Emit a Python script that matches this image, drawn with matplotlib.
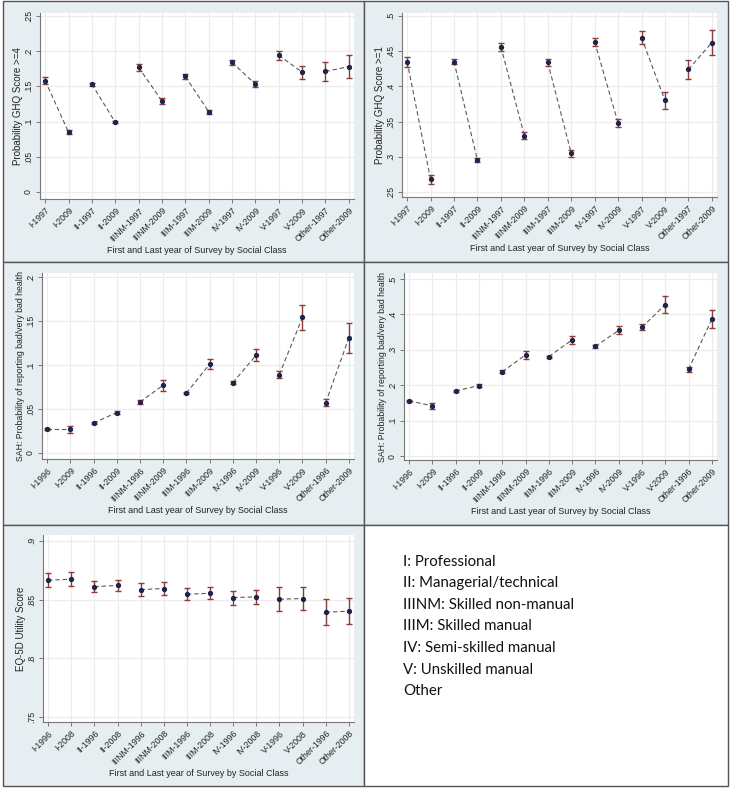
import matplotlib
matplotlib.use("Agg")
import matplotlib.pyplot as plt
from matplotlib.patches import Rectangle

W, H = 731, 792

classes = ["I", "II", "IIINM", "IIIM", "IV", "V", "Other"]

# Panel 1: GHQ >= 4
ghq4_labels = ["I-1997", "I-2009", "II-1997", "II-2009", "IIINM-1997", "IIINM-2009",
               "IIIM-1997", "IIIM-2009", "IV-1997", "IV-2009", "V-1997", "V-2009",
               "Other-1997", "Other-2009"]
ghq4_vals = [0.158, 0.085, 0.153, 0.099, 0.177, 0.129, 0.164, 0.114, 0.184, 0.153,
             0.194, 0.170, 0.171, 0.178]
ghq4_err = [0.005, 0.003, 0.002, 0.0015, 0.005, 0.004, 0.003, 0.003, 0.004, 0.004,
            0.006, 0.009, 0.014, 0.016]

# Panel 2: GHQ >= 1
ghq1_labels = ghq4_labels
ghq1_vals = [0.435, 0.268, 0.435, 0.295, 0.456, 0.330, 0.434, 0.305, 0.463, 0.348,
             0.469, 0.380, 0.424, 0.462]
ghq1_err = [0.007, 0.006, 0.004, 0.003, 0.006, 0.005, 0.005, 0.005, 0.006, 0.005,
            0.009, 0.012, 0.014, 0.018]

# Panel 3: SAH bad/very bad (left)
sah_labels = ["I-1996", "I-2009", "II-1996", "II-2009", "IIINM-1996", "IIINM-2009",
              "IIIM-1996", "IIIM-2009", "IV-1996", "IV-2009", "V-1996", "V-2009",
              "Other-1996", "Other-2009"]
sahA_vals = [0.027, 0.027, 0.034, 0.046, 0.058, 0.077, 0.068, 0.101, 0.080, 0.111,
             0.089, 0.154, 0.057, 0.131]
sahA_err = [0.001, 0.004, 0.001, 0.002, 0.002, 0.006, 0.001, 0.006, 0.002, 0.007,
            0.004, 0.014, 0.004, 0.017]

# Panel 4: SAH bad/very bad (right)
sahB_vals = [0.156, 0.142, 0.184, 0.199, 0.238, 0.286, 0.281, 0.328, 0.310, 0.355,
             0.364, 0.428, 0.245, 0.387]
sahB_err = [0.003, 0.009, 0.002, 0.005, 0.004, 0.012, 0.003, 0.011, 0.004, 0.011,
            0.009, 0.024, 0.008, 0.025]

# Panel 5: EQ-5D
eq_labels = ["I-1996", "I-2008", "II-1996", "II-2008", "IIINM-1996", "IIINM-2008",
             "IIIM-1996", "IIIM-2008", "IV-1996", "IV-2008", "V-1996", "V-2008",
             "Other-1996", "Other-2008"]
eq_vals = [0.8665, 0.8673, 0.861, 0.862, 0.8585, 0.8594, 0.8545, 0.8554, 0.8517, 0.8523,
           0.8503, 0.8509, 0.8392, 0.8401]
eq_err = [0.006, 0.006, 0.0045, 0.0045, 0.0055, 0.0055, 0.005, 0.005, 0.006, 0.006,
          0.010, 0.010, 0.011, 0.011]

legend_lines = ["I: Professional", "II: Managerial/technical", "IIINM: Skilled non-manual",
                "IIIM: Skilled manual", "IV: Semi-skilled manual", "V: Unskilled manual", "Other"]

plt.rcParams['font.family'] = ['Liberation Sans', 'DejaVu Sans']

fig = plt.figure(figsize=(W / 100, H / 100), dpi=100)
fig.patch.set_facecolor("white")

BG = "#e7eef1"
FRAME = "#555555"

def px_rect(x0, y0, x1, y1):
    return [x0 / W, 1 - y1 / H, (x1 - x0) / W, (y1 - y0) / H]

# panel backgrounds
panels = [(3, 1, 364, 262, BG), (364, 1, 728, 262, BG), (3, 262, 364, 525, BG),
          (364, 262, 728, 525, BG), (3, 525, 364, 786, BG), (364, 525, 728, 786, "white")]
for (x0, y0, x1, y1, c) in panels:
    fig.patches.append(Rectangle((x0 / W, 1 - y1 / H), (x1 - x0) / W, (y1 - y0) / H,
                                 transform=fig.transFigure, facecolor=c,
                                 edgecolor=FRAME, linewidth=1.0, zorder=-10))

NAVY = "#1b2550"
RED = "#8c3b3b"

def draw(rect, labels, vals, errs, ylim, yticks, yticklabels, ylabel, ylsize=7.0):
    ax = fig.add_axes(px_rect(*rect))
    ax.set_zorder(1)
    ax.set_facecolor("white")
    x = list(range(len(labels)))
    for k in range(0, len(vals), 2):
        ax.plot(x[k:k + 2], vals[k:k + 2], linestyle=(0, (4, 2.5)), color="#5a5a5a",
                linewidth=0.8, zorder=2)
    ax.errorbar(x, vals, yerr=errs, fmt="none", ecolor=RED, elinewidth=1.0,
                capsize=2.5, capthick=1.0, zorder=3)
    ax.plot(x, vals, "o", color=NAVY, markersize=2.8, zorder=4, linestyle="none")
    ax.set_xlim(-0.22, len(labels) - 1 + 0.22)
    ax.set_ylim(*ylim)
    ax.set_xticks(x)
    ax.set_xticklabels(labels, rotation=45, ha="right", rotation_mode="anchor",
                       fontsize=6.3, color="#222222")
    ax.set_yticks(yticks)
    ax.set_yticklabels(yticklabels, rotation=90, va="center", fontsize=6.3,
                       color="#222222")
    ax.grid(True, color="#ececec", linewidth=0.9, zorder=0)
    ax.set_axisbelow(True)
    for s in ["top", "right"]:
        ax.spines[s].set_visible(False)
    for s in ["left", "bottom"]:
        ax.spines[s].set_color("#777777")
        ax.spines[s].set_linewidth(0.8)
    ax.tick_params(axis="both", length=3, width=0.7, color="#777777", pad=2)
    ax.set_xlabel("First and Last year of Survey by Social Class", fontsize=6.5,
                  color="#222222", labelpad=1.5)
    ax.set_ylabel(ylabel, fontsize=ylsize, color="#222222", labelpad=1)
    return ax

draw((40, 13, 354, 199), ghq4_labels, ghq4_vals, ghq4_err, (-0.0099, 0.254),
     [0, 0.05, 0.1, 0.15, 0.2, 0.25], ["0", ".05", ".1", ".15", ".2", ".25"],
     "Probability GHQ Score >=4")
draw((402, 13, 717, 197), ghq1_labels, ghq1_vals, ghq1_err, (0.243, 0.504),
     [0.25, 0.3, 0.35, 0.4, 0.45, 0.5], [".25", ".3", ".35", ".4", ".45", ".5"],
     "Probability GHQ Score >=1")
draw((42, 273, 354, 459), sah_labels, sahA_vals, sahA_err, (-0.0068, 0.2045),
     [0, 0.05, 0.1, 0.15, 0.2], ["0", ".05", ".1", ".15", ".2"],
     "SAH: Probability of reporting bad/very bad health", ylsize=6.3)
draw((404, 273, 717, 460), sah_labels, sahB_vals, sahB_err, (-0.011, 0.517),
     [0, 0.1, 0.2, 0.3, 0.4, 0.5], ["0", ".1", ".2", ".3", ".4", ".5"],
     "SAH: Probability of reporting bad/very bad health", ylsize=6.3)
draw((43, 535, 354, 722), eq_labels, eq_vals, eq_err, (0.7457, 0.905),
     [0.75, 0.8, 0.85, 0.9], [".75", ".8", ".85", ".9"],
     "EQ-5D Utility Score")

# legend text panel
for i, line in enumerate(legend_lines):
    fig.text(403 / W, 1 - (562 + i * 21.5) / H, line, fontsize=10.8,
             family=["Lato", "DejaVu Sans"], color="#111111", va="center", ha="left")

fig.savefig("out.png", dpi=100)
